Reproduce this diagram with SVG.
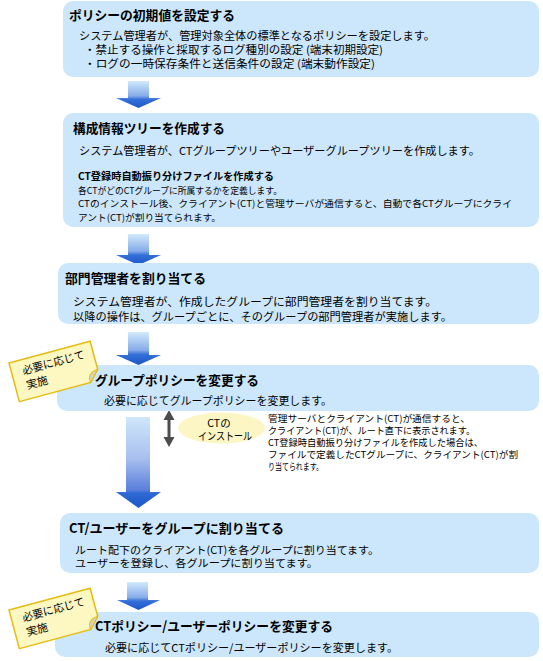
<svg xmlns="http://www.w3.org/2000/svg" width="543" height="661" viewBox="0 0 543 661">
<style>
.box{fill:#cce7fc}
.t{font-family:"Noto Sans CJK JP","Noto Sans CJK SC",sans-serif;font-weight:bold;font-size:13px;fill:#000}
.b{font-family:"Noto Sans CJK JP","Noto Sans CJK SC",sans-serif;font-size:11px;fill:#000}
.c{font-family:"Noto Sans CJK JP","Noto Sans CJK SC",sans-serif;font-size:10.5px;fill:#000}
.s{font-family:"Noto Sans CJK JP","Noto Sans CJK SC",sans-serif;font-size:9.5px;fill:#000}
.sb{font-family:"Noto Sans CJK JP","Noto Sans CJK SC",sans-serif;font-size:10px;font-weight:bold;fill:#000}
.note{fill:#fdf8c2;stroke:#e4bd14;stroke-width:1.5}
.fold{fill:#d8d4bc;stroke:#e4bd14;stroke-width:1}
.arr{fill:url(#ga)}
.big{fill:url(#gb)}
</style>
<defs>
<linearGradient id="ga" x1="0" y1="0" x2="0" y2="1">
<stop offset="0" stop-color="#d2eafc"/>
<stop offset="0.55" stop-color="#86ace9"/>
<stop offset="0.68" stop-color="#3570d8"/>
<stop offset="1" stop-color="#1b57c8"/>
</linearGradient>
<linearGradient id="gb" x1="0" y1="0" x2="0" y2="1">
<stop offset="0" stop-color="#cfe6fb"/>
<stop offset="0.45" stop-color="#a9c0ef"/>
<stop offset="0.8" stop-color="#5a7fdc"/>
<stop offset="0.84" stop-color="#2e68d4"/>
<stop offset="1" stop-color="#1b57c8"/>
</linearGradient>
</defs>

<g id="connectors">
<path class="arr" d="M128,81 H149 V98 H161 L138.5,108 L116,98 H128 Z"/>
<path class="arr" d="M128,234 H149 V255 H161 L138.5,265 L116,255 H128 Z"/>
<path class="arr" d="M128,332 H149 V355 H161 L138.5,365 L116,355 H128 Z"/>
<path class="big" d="M126,417 H150 V492 H161 L138.5,508 L116,492 H126 Z"/>
<path class="arr" d="M127,582 H148 V600 H160 L138.5,610 L117,600 H127 Z"/>
<path d="M169,410 L163.5,420 H167.5 V437 H163.5 L169,447 L174.5,437 H170.5 V420 H174.5 Z" fill="#4d4d4d"/>
</g>

<g id="node1">
<rect class="box" x="63" y="1" width="476" height="76" rx="10"/>
<text class="t" x="69" y="20" textLength="166" lengthAdjust="spacingAndGlyphs">ポリシーの初期値を設定する</text>
<text class="b" x="79" y="40" textLength="356" lengthAdjust="spacingAndGlyphs">システム管理者が、管理対象全体の標準となるポリシーを設定します。</text>
<text class="b" x="84" y="54" textLength="299" lengthAdjust="spacingAndGlyphs">・禁止する操作と採取するログ種別の設定 (端末初期設定)</text>
<text class="b" x="84" y="68" textLength="291" lengthAdjust="spacingAndGlyphs">・ログの一時保存条件と送信条件の設定 (端末動作設定)</text>
</g>

<g id="node2">
<rect class="box" x="63" y="113" width="476" height="114" rx="10"/>
<text class="t" x="73" y="133" textLength="152" lengthAdjust="spacingAndGlyphs">構成情報ツリーを作成する</text>
<text class="b" x="79" y="155" textLength="401" lengthAdjust="spacingAndGlyphs">システム管理者が、CTグループツリーやユーザーグループツリーを作成します。</text>
<text class="sb" x="78" y="180" textLength="196" lengthAdjust="spacingAndGlyphs">CT登録時自動振り分けファイルを作成する</text>
<text class="s" x="78" y="194" textLength="204" lengthAdjust="spacingAndGlyphs">各CTがどのCTグループに所属するかを定義します。</text>
<text class="s" x="78" y="207" textLength="434" lengthAdjust="spacingAndGlyphs">CTのインストール後、クライアント(CT)と管理サーバが通信すると、自動で各CTグループにクライ</text>
<text class="s" x="78" y="221" textLength="143" lengthAdjust="spacingAndGlyphs">アント(CT)が割り当てられます。</text>
</g>

<g id="node3">
<rect class="box" x="58" y="263" width="481" height="61" rx="10"/>
<text class="t" x="65" y="283" textLength="141" lengthAdjust="spacingAndGlyphs">部門管理者を割り当てる</text>
<text class="b" x="73" y="306" textLength="364" lengthAdjust="spacingAndGlyphs">システム管理者が、作成したグループに部門管理者を割り当てます。</text>
<text class="b" x="73" y="321" textLength="379" lengthAdjust="spacingAndGlyphs">以降の操作は、グループごとに、そのグループの部門管理者が実施します。</text>
</g>

<g id="node4">
<rect class="box" x="57" y="365" width="482" height="46" rx="10"/>
<text class="t" x="95" y="385" textLength="164" lengthAdjust="spacingAndGlyphs">グループポリシーを変更する</text>
<text class="b" x="104" y="405" textLength="228" lengthAdjust="spacingAndGlyphs">必要に応じてグループポリシーを変更します。</text>
</g>

<g id="note1" transform="translate(9,363) rotate(-15)">
<path class="note" d="M0,0 H84 V29 L74,40 H0 Z"/>
<path class="fold" d="M84,29 L74,40 Q72,30 84,29 Z"/>
<text class="b" x="11" y="15" textLength="64" lengthAdjust="spacingAndGlyphs">必要に応じて</text>
<text class="b" x="11" y="30">実施</text>
</g>

<g id="install">
<ellipse cx="221.5" cy="428" rx="43.5" ry="15.5" fill="#fbf6c4"/>
<text class="c" x="219" y="427" text-anchor="middle">CTの</text>
<text class="c" x="225" y="440" text-anchor="middle" textLength="54" lengthAdjust="spacingAndGlyphs">インストール</text>
</g>

<g id="install-note">
<text class="s" x="268" y="422" textLength="202" lengthAdjust="spacingAndGlyphs">管理サーバとクライアント(CT)が通信すると、</text>
<text class="s" x="268" y="434" textLength="207" lengthAdjust="spacingAndGlyphs">クライアント(CT)が、ルート直下に表示されます。</text>
<text class="s" x="268" y="446" textLength="215" lengthAdjust="spacingAndGlyphs">CT登録時自動振り分けファイルを作成した場合は、</text>
<text class="s" x="268" y="458" textLength="250" lengthAdjust="spacingAndGlyphs">ファイルで定義したCTグループに、クライアント(CT)が割</text>
<text class="s" x="268" y="470" textLength="55" lengthAdjust="spacingAndGlyphs">り当てられます。</text>
</g>

<g id="node5">
<rect class="box" x="60" y="513" width="479" height="60" rx="10"/>
<text class="t" x="69" y="533" textLength="215" lengthAdjust="spacingAndGlyphs">CT/ユーザーをグループに割り当てる</text>
<text class="c" x="75" y="554" textLength="304" lengthAdjust="spacingAndGlyphs">ルート配下のクライアント(CT)を各グループに割り当てます。</text>
<text class="c" x="75" y="567" textLength="243" lengthAdjust="spacingAndGlyphs">ユーザーを登録し、各グループに割り当てます。</text>
</g>

<g id="node6">
<rect class="box" x="55" y="612" width="484" height="45" rx="10"/>
<text class="t" x="95" y="631" textLength="238" lengthAdjust="spacingAndGlyphs">CTポリシー/ユーザーポリシーを変更する</text>
<text class="b" x="105" y="652" textLength="293" lengthAdjust="spacingAndGlyphs">必要に応じてCTポリシー/ユーザーポリシーを変更します。</text>
</g>

<g id="note2" transform="translate(9,610) rotate(-15)">
<path class="note" d="M0,0 H84 V29 L74,40 H0 Z"/>
<path class="fold" d="M84,29 L74,40 Q72,30 84,29 Z"/>
<text class="b" x="11" y="15" textLength="64" lengthAdjust="spacingAndGlyphs">必要に応じて</text>
<text class="b" x="11" y="30">実施</text>
</g>
</svg>
